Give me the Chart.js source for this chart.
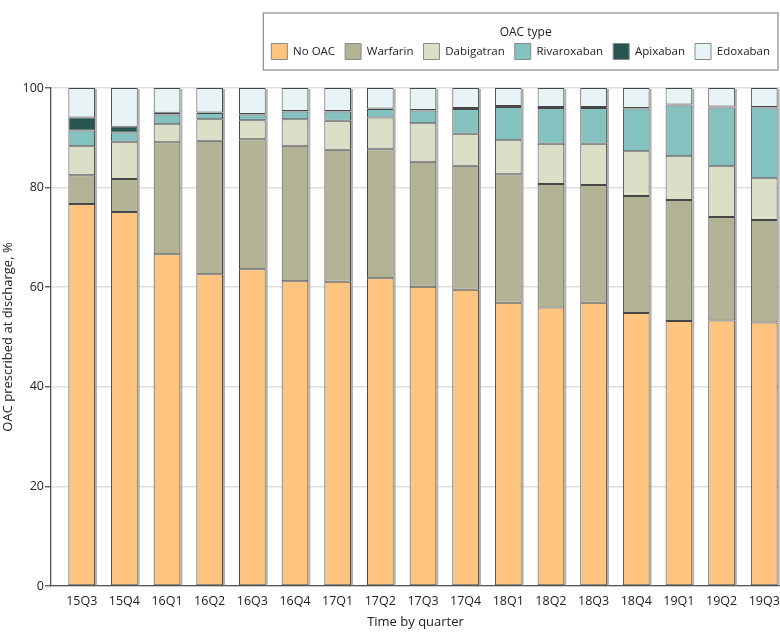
<!DOCTYPE html>
<html>
<head>
<meta charset="utf-8">
<script src="https://cdn.jsdelivr.net/npm/chart.js@4.4.1/dist/chart.umd.min.js"></script>
<style>
  html, body { margin: 0; padding: 0; background: #fff; }
  canvas { display: block; }
</style>
</head>
<body>
<canvas id="chart" width="780" height="641"></canvas>
<script>
const quarters = ['15Q3', '15Q4', '16Q1', '16Q2', '16Q3', '16Q4', '17Q1', '17Q2', '17Q3',
  '17Q4', '18Q1', '18Q2', '18Q3', '18Q4', '19Q1', '19Q2', '19Q3'];

// share of patients (%) per quarter, bottom to top of each bar
const noOac       = [76.7, 75.1, 66.6, 62.6, 63.6, 61.2, 61.1, 61.8, 60.1, 59.5, 56.9, 55.9, 56.9, 54.8, 53.2, 53.3, 52.9];
const warfarin    = [5.8, 6.65, 22.5, 26.8, 26.1, 27.2, 26.5, 25.9, 25.1, 24.9, 25.8, 24.8, 23.6, 23.5, 24.3, 20.8, 20.6];
const dabigatran  = [5.8, 7.45, 3.6, 4.3, 3.8, 5.3, 5.8, 6.4, 7.7, 6.4, 6.8, 8.1, 8.3, 9.0, 8.8, 10.2, 8.4];
const rivaroxaban = [3.15, 1.85, 2.0, 1.3, 1.2, 1.6, 1.9, 1.7, 2.6, 5.0, 6.7, 7.2, 7.2, 8.6, 10.2, 11.8, 14.2];
const apixaban    = [2.65, 1.15, 0.35, 0.1, 0.1, 0.1, 0.1, 0.1, 0.1, 0.2, 0.2, 0.2, 0.2, 0.1, 0.2, 0.2, 0.1];
const edoxaban    = [5.9, 7.8, 4.95, 4.9, 5.2, 4.6, 4.6, 4.1, 4.4, 4.0, 3.6, 3.8, 3.8, 4.0, 3.3, 3.7, 3.8];

const yTicks = [0, 20, 40, 60, 80, 100];

const seriesNames = ['No OAC', 'Warfarin', 'Dabigatran', 'Rivaroxaban', 'Apixaban', 'Edoxaban'];
const seriesValues = [noOac, warfarin, dabigatran, rivaroxaban, apixaban, edoxaban];
const seriesColors = ['#ffc580', '#b1b394', '#dcdfc7', '#84c2c0', '#27554f', '#e8f3f5'];

Chart.defaults.font.family = "'Open Sans', 'Noto Sans', sans-serif";
Chart.defaults.font.size = 12.5;
Chart.defaults.color = '#222';

const ctx = document.getElementById('chart').getContext('2d');

new Chart(ctx, {
  type: 'bar',
  data: {
    datasets: seriesNames.map((name, k) => ({
      label: name,
      data: seriesValues[k].map((v, i) => ({ x: i, y: v })),
      backgroundColor: seriesColors[k],
      borderColor: '#474747',
      borderWidth: 1,
      borderSkipped: false,
      categoryPercentage: 1,
      barPercentage: 0.625,
    })),
  },
  options: {
    responsive: false,
    animation: false,
    devicePixelRatio: 1,
    layout: { padding: { top: 13, left: 0, right: 0, bottom: 0 } },
    scales: {
      x: {
        type: 'linear',
        stacked: true,
        offset: false,
        min: -0.72,
        max: 16.37,
        grid: { display: true, offset: false, drawOnChartArea: false, drawTicks: false },
        border: { display: true, color: '#555', width: 1.3 },
        ticks: {
          stepSize: 1,
          includeBounds: false,
          autoSkip: false,
          maxRotation: 0,
          padding: 8,
          callback: (v) => (Number.isInteger(v) && quarters[v]) ? quarters[v] : '',
        },
        title: {
          display: true,
          text: 'Time by quarter',
          font: { size: 13 },
          padding: { top: 0, bottom: 11 },
        },
        afterFit: (scale) => {
          scale.height = 55;
          // the last label may touch the edge; keep the plot running to the right side
          scale.paddingLeft = 0;
          scale.paddingRight = 0;
        },
      },
      y: {
        stacked: true,
        min: 0,
        max: 100,
        grid: { color: '#dedede', lineWidth: 1.5, tickLength: 6, tickColor: '#555', tickWidth: 1.3 },
        border: { display: true, color: '#555', width: 1.3 },
        ticks: {
          stepSize: 20,
          padding: 1,
          callback: (v) => yTicks.includes(v) ? v : '',
        },
        title: {
          display: true,
          text: 'OAC prescribed at discharge, %',
          font: { size: 13 },
          padding: { top: 0, bottom: 0 },
        },
        afterFit: (scale) => { scale.width = 51; },
      },
    },
    plugins: {
      tooltip: { enabled: false },
      legend: {
        position: 'top',
        align: 'end',
        title: {
          display: true,
          text: 'OAC type',
          font: { size: 12, lineHeight: 1 },
          padding: { top: 14, bottom: -5.5 },
        },
        labels: {
          boxWidth: 16,
          boxHeight: 16,
          padding: 10,
          font: { size: 11.5 },
          generateLabels: (chart) => Chart.defaults.plugins.legend.labels.generateLabels(chart)
            .map((item) => ({ ...item, strokeStyle: '#8a8a8a', lineWidth: 1 })),
        },
      },
    },
  },
  plugins: [{
    id: 'legendFrame',
    beforeInit: (chart) => {
      // make the legend block tall enough that the plot starts at the right place
      const fit = chart.legend.fit;
      chart.legend.fit = function () {
        fit.call(this);
        this.height = 75;
      };
    },
    afterDraw: (chart) => {
      const legend = chart.legend;
      const boxes = legend.legendHitBoxes;
      if (!boxes || !boxes.length) return;
      const left = Math.min(...boxes.map((b) => b.left)) - 8;
      const right = Math.max(...boxes.map((b) => b.left + b.width)) + 8;
      const c = chart.ctx;
      c.save();
      c.strokeStyle = '#8c8c8c';
      c.lineWidth = 1.2;
      c.strokeRect(left, legend.top, right - left, 57);
      c.restore();
    },
  }, {
    id: 'barShadow',
    beforeDatasetsDraw: (chart) => {
      // thin grey shade on the right edge of each stacked bar
      const bottomMeta = chart.getDatasetMeta(0);
      const topMeta = chart.getDatasetMeta(chart.data.datasets.length - 1);
      const c = chart.ctx;
      c.save();
      c.fillStyle = '#b0b0b0';
      bottomMeta.data.forEach((bar, i) => {
        const top = topMeta.data[i].y;
        c.fillRect(bar.x + bar.width / 2, top + 1, 2, bar.base - top - 1);
      });
      c.restore();
    },
  }],
});
</script>
</body>
</html>
